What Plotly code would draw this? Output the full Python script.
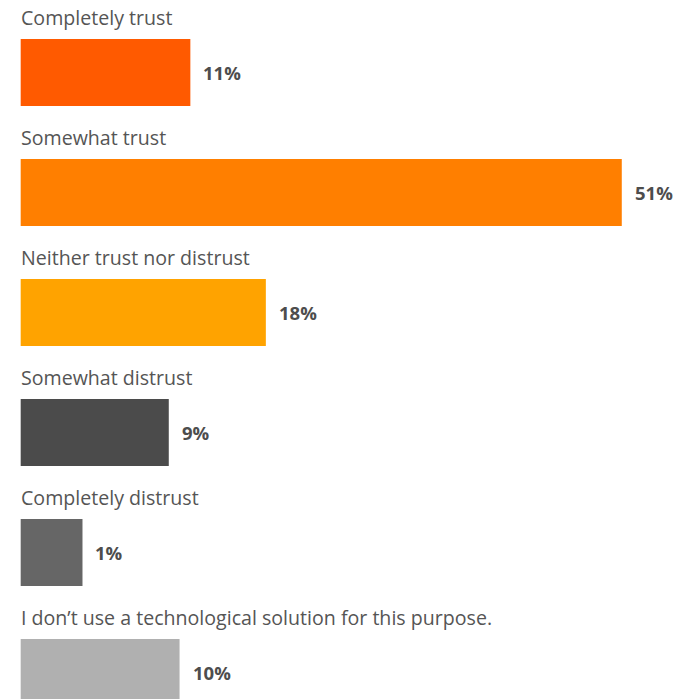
import plotly.graph_objects as go

# Survey responses: level of trust in a technological solution
categories = [
    "Completely trust",
    "Somewhat trust",
    "Neither trust nor distrust",
    "Somewhat distrust",
    "Completely distrust",
    "I don\u2019t use a technological solution for this purpose.",
]
values = [11, 51, 18, 9, 1, 10]
value_labels = ["11%", "51%", "18%", "9%", "1%", "10%"]
colors = ["#FF5A00", "#FF7F00", "#FFA300", "#4B4B4B", "#666666", "#B0B0B0"]

# Every bar gets a short stub so very small shares stay visible
STUB = 4.73

rows = list(range(len(categories)))

fig = go.Figure(
    go.Bar(
        x=[v + STUB for v in values],
        y=rows,
        base=[-STUB] * len(values),
        orientation="h",
        marker=dict(color=colors, line=dict(width=0)),
        width=0.558,
        hoverinfo="skip",
    )
)

annotations = []
for i, (cat, v, lab) in enumerate(zip(categories, values, value_labels)):
    annotations.append(dict(
        x=-STUB, y=i - 0.46, xref="x", yref="y",
        text=cat, showarrow=False, xanchor="left", yanchor="middle",
        xshift=-2,
        font=dict(family="Open Sans", size=19.6, color="#555555"),
    ))
    annotations.append(dict(
        x=v, y=i, xref="x", yref="y",
        text=f"<b>{lab}</b>", showarrow=False, xanchor="left", yanchor="middle",
        xshift=11,
        font=dict(family="Open Sans", size=18.5, color="#4D4D4D"),
    ))

fig.update_layout(
    width=677, height=699,
    margin=dict(l=0, r=0, t=0, b=0),
    paper_bgcolor="white", plot_bgcolor="white",
    showlegend=False,
    xaxis=dict(range=[-6.648, 56.12], visible=False, fixedrange=True),
    yaxis=dict(range=[5.221, -0.604], visible=False, fixedrange=True),
    annotations=annotations,
)

fig.write_html("out.html")
